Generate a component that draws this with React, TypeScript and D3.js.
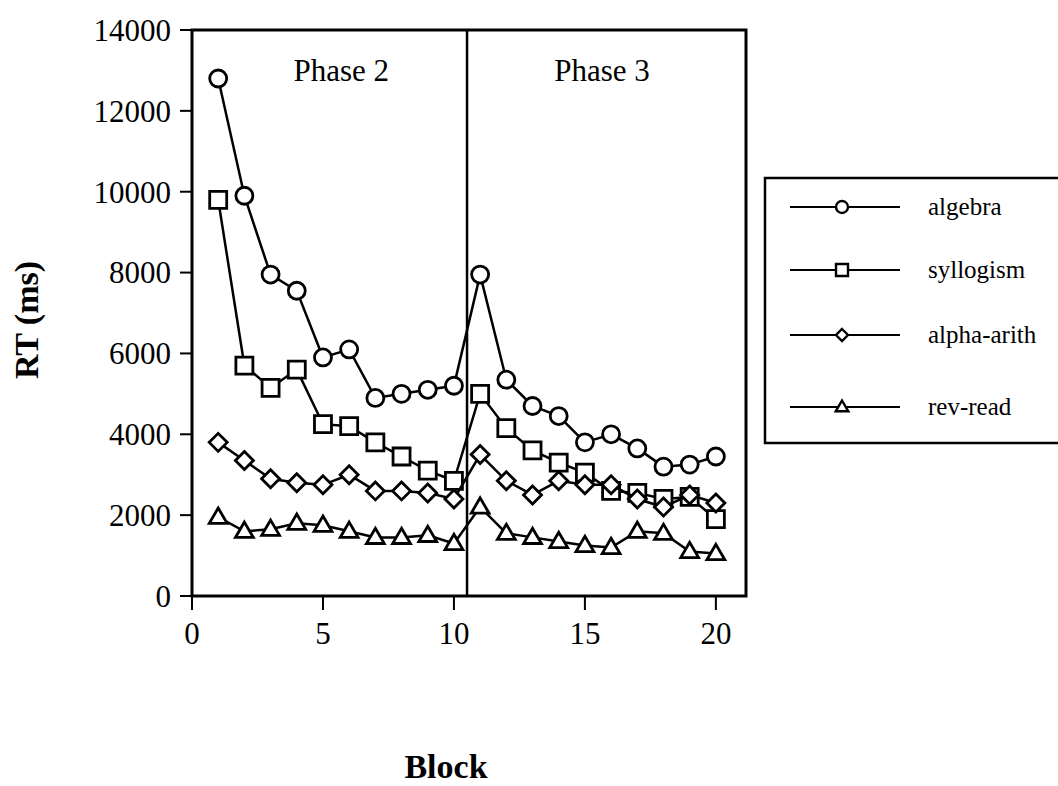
import React from 'react';
import * as d3 from 'd3';

const blocks = [1, 2, 3, 4, 5, 6, 7, 8, 9, 10, 11, 12, 13, 14, 15, 16, 17, 18, 19, 20];
const algebra = [12800, 9900, 7950, 7550, 5900, 6100, 4900, 5000, 5100, 5200, 7950, 5350, 4700, 4450, 3800, 4000, 3650, 3200, 3250, 3450];
const syllogism = [9800, 5700, 5150, 5600, 4250, 4200, 3800, 3450, 3100, 2850, 5000, 4150, 3600, 3300, 3050, 2600, 2550, 2400, 2450, 1900];
const alphaArith = [3800, 3350, 2900, 2800, 2750, 3000, 2600, 2600, 2550, 2400, 3500, 2850, 2500, 2850, 2750, 2750, 2400, 2200, 2500, 2300];
const revRead = [1950, 1600, 1650, 1800, 1750, 1600, 1450, 1450, 1500, 1300, 2200, 1550, 1450, 1350, 1250, 1200, 1600, 1550, 1100, 1050];

const seriesNames = ['algebra', 'syllogism', 'alpha-arith', 'rev-read'];
const seriesShapes = ['circle', 'square', 'diamond', 'triangle'];
const seriesValues = [algebra, syllogism, alphaArith, revRead];

const yTicks = [0, 2000, 4000, 6000, 8000, 10000, 12000, 14000];
const xTicks = [0, 5, 10, 15, 20];
const phaseLabels = [
  { text: 'Phase 2', at: 5.7 },
  { text: 'Phase 3', at: 15.65 },
];
const phaseSplit = 10.5;

const FONT = '"Liberation Serif", "Times New Roman", serif';

// marker path centred on 0,0, s = half size
const markerPath = (shape: string, s: number) => {
  if (shape === 'circle') {
    return `M${-s},0A${s},${s} 0 1,0 ${s},0A${s},${s} 0 1,0 ${-s},0Z`;
  }
  if (shape === 'square') {
    return `M${-s},${-s}H${s}V${s}H${-s}Z`;
  }
  if (shape === 'diamond') {
    return `M0,${-s}L${s},0L0,${s}L${-s},0Z`;
  }
  const h = s * 1.8;
  return `M0,${-h * 0.6}L${s * 1.05},${h * 0.4}L${-s * 1.05},${h * 0.4}Z`;
};

export default function App() {
  const xScale = d3.scaleLinear().domain([0, 21.15]).range([192, 746]);
  const yScale = d3.scaleLinear().domain([0, 14000]).range([596, 30]);
  const [x0, x1] = xScale.range();
  const [yb, yt] = yScale.range();

  const line = d3.line<number>()
    .x((_, i) => xScale(blocks[i]))
    .y(d => yScale(d));

  const legendX = 765;
  const legendRows = [207, 270, 335, 407];

  return (
    <svg width={1058} height={786} style={{ position: 'absolute', left: 0, top: 0, background: '#fff' }}>
      {/* series */}
      {seriesValues.map((vals, si) => (
        <g key={seriesNames[si]}>
          <path d={line(vals) || ''} fill="none" stroke="#000" strokeWidth={2.5} />
          {vals.map((v, i) => (
            <path
              key={i}
              d={markerPath(seriesShapes[si], seriesShapes[si] === 'diamond' ? 9 : 8.5)}
              transform={`translate(${xScale(blocks[i])},${yScale(v)})`}
              fill="#fff"
              stroke="#000"
              strokeWidth={2.8}
            />
          ))}
        </g>
      ))}

      {/* frame */}
      <rect x={x0} y={yt} width={x1 - x0} height={yb - yt} fill="none" stroke="#000" strokeWidth={3} />
      <line x1={xScale(phaseSplit)} x2={xScale(phaseSplit)} y1={yt} y2={yb} stroke="#000" strokeWidth={2.5} />

      {/* y axis */}
      {yTicks.map(t => (
        <g key={t}>
          <line x1={x0 - 12} x2={x0} y1={yScale(t)} y2={yScale(t)} stroke="#000" strokeWidth={2} />
          <text x={x0 - 21} y={yScale(t)} dy="0.35em" textAnchor="end" fontFamily={FONT} fontSize={31}>{t}</text>
        </g>
      ))}

      {/* x axis */}
      {xTicks.map(t => (
        <g key={t}>
          <line x1={xScale(t)} x2={xScale(t)} y1={yb} y2={yb + 14} stroke="#000" strokeWidth={2} />
          <text x={xScale(t)} y={yb + 48} textAnchor="middle" fontFamily={FONT} fontSize={31}>{t}</text>
        </g>
      ))}

      {phaseLabels.map(p => (
        <text key={p.text} x={xScale(p.at)} y={81} textAnchor="middle" fontFamily={FONT} fontSize={31}>{p.text}</text>
      ))}

      {/* axis titles */}
      <text transform="translate(38,320) rotate(-90)" textAnchor="middle" fontFamily={FONT} fontSize={34} fontWeight="bold">RT (ms)</text>
      <text x={446} y={778} textAnchor="middle" fontFamily={FONT} fontSize={34} fontWeight="bold">Block</text>

      {/* legend */}
      <rect x={legendX} y={178} width={330} height={265} fill="#fff" stroke="#000" strokeWidth={2.5} />
      {seriesNames.map((name, i) => (
        <g key={name}>
          <line x1={790} x2={900} y1={legendRows[i]} y2={legendRows[i]} stroke="#000" strokeWidth={2.2} />
          <path d={markerPath(seriesShapes[i], 6)} transform={`translate(842,${legendRows[i]})`} fill="#fff" stroke="#000" strokeWidth={2.4} />
          <text x={928} y={legendRows[i]} dy="0.3em" fontFamily={FONT} fontSize={25}>{name}</text>
        </g>
      ))}
    </svg>
  );
}
